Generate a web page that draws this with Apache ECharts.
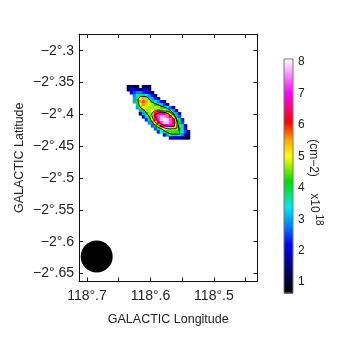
<!DOCTYPE html>
<html><head><meta charset="utf-8">
<style>html,body{margin:0;padding:0;background:#fff;overflow:hidden}#c{width:346px;height:363px}</style>
<script src="https://cdn.jsdelivr.net/npm/echarts@6/dist/echarts.min.js"></script>
</head><body><div id="c"></div>
<script>
const lonTicks = [118.7, 118.65, 118.6, 118.55, 118.5, 118.45];
const lonLabels = {118.7: '118°.7', 118.6: '118°.6', 118.5: '118°.5'};
const latTicks = [-2.3, -2.35, -2.4, -2.45, -2.5, -2.55, -2.6, -2.65];
const latLabels = ['−2°.3', '−2°.35', '−2°.4', '−2°.45', '−2°.5', '−2°.55', '−2°.6', '−2°.65'];
const barTicks = [1, 2, 3, 4, 5, 6, 7, 8];
const lonStart = 118.635, latStart = -2.3562, cellStep = 0.00473;
// [first column, values...] per image row, column density in units of 1e18 cm-2
const rows = [
 [0, 1.2, 1.5, 1.4, 1.1, 0, 1.2, 1.4, 1.1],
 [0, 1.5, 2.0, 2.1, 1.7, 1.4, 2.0, 2.0, 1.4],
 [1, 2.0, 2.5, 2.8, 2.8, 2.4, 2.2, 1.8, 1.3],
 [2, 2.8, 3.5, 3.8, 3.8, 3.4, 2.8, 2.2, 1.5],
 [2, 3.0, 4.0, 5.0, 5.4, 4.7, 3.8, 3.0, 2.4, 1.6],
 [2, 3.0, 4.3, 5.5, 5.8, 5.5, 4.8, 4.1, 3.5, 2.8, 2.1, 1.4],
 [3, 3.8, 5.1, 5.6, 5.3, 4.9, 4.7, 4.3, 3.8, 3.2, 2.5, 1.6],
 [3, 3.0, 4.4, 4.9, 4.8, 4.7, 4.7, 4.8, 4.7, 4.4, 4.0, 3.4, 2.6, 1.6],
 [4, 3.0, 4.1, 4.6, 4.7, 5.0, 5.4, 5.8, 5.6, 5.0, 4.5, 3.9, 3.0, 1.9],
 [4, 1.6, 3.0, 4.1, 4.6, 5.3, 6.1, 6.9, 7.0, 6.5, 5.6, 4.8, 4.1, 3.0, 1.8],
 [5, 1.9, 3.3, 4.4, 5.1, 6.2, 7.2, 7.7, 7.8, 7.3, 6.3, 5.0, 4.0, 2.6],
 [6, 2.4, 3.8, 4.8, 6.0, 7.1, 7.8, 8.1, 7.9, 7.3, 6.2, 4.9, 3.9, 2.3],
 [7, 2.8, 4.2, 5.2, 6.2, 7.2, 7.8, 7.9, 7.3, 6.4, 5.2, 4.1, 2.5],
 [8, 2.6, 4.2, 4.9, 6.1, 6.7, 7.0, 6.8, 6.3, 5.2, 4.4, 3.3, 1.8],
 [9, 2.6, 4.0, 4.7, 5.0, 5.2, 5.2, 5.0, 4.7, 4.2, 3.3, 2.0],
 [10, 2.4, 3.4, 4.0, 4.3, 4.4, 4.4, 4.3, 4.1, 3.5, 2.5, 1.4],
 [12, 2.0, 2.9, 3.5, 3.7, 3.7, 3.5, 2.9, 2.1, 1.3],
 [14, 1.5, 2.0, 2.0, 1.8, 1.6, 1.2, 1.0]
];
const contourOuter = [[118.6195,-2.3774],[118.6157,-2.3722],[118.6073,-2.3722],[118.5983,-2.3801],[118.5852,-2.3863],[118.5695,-2.3931],[118.5589,-2.4088],[118.5537,-2.4312],[118.5642,-2.4312],[118.58,-2.4245],[118.5958,-2.414],[118.6037,-2.4009],[118.6105,-2.3931],[118.6168,-2.3879],[118.6195,-2.3774]];
const contourMiddle = [[118.5983,-2.3998],[118.5931,-2.3947],[118.58,-2.3947],[118.5668,-2.3983],[118.5579,-2.4115],[118.5589,-2.4218],[118.5695,-2.4229],[118.5826,-2.4193],[118.5931,-2.4115],[118.5983,-2.3998]];
const contourInner = [[118.5931,-2.4009],[118.5826,-2.3967],[118.5695,-2.4009],[118.5616,-2.4124],[118.5642,-2.4193],[118.58,-2.4166],[118.5895,-2.4088],[118.5931,-2.4009]];
const beamCentre = [[118.6847, -2.6234]];
const colourStops = [[0.6,[0,0,0]],[1.3,[0,0,90]],[2.2,[0,0,255]],[2.8,[0,130,255]],[3.4,[0,235,235]],[4.2,[0,220,0]],[5.0,[255,255,0]],[5.5,[255,170,0]],[6.1,[255,0,0]],[7.0,[255,0,255]],[8.1,[255,255,255]]];

function colourOf(v){
  if(v<=colourStops[0][0]) return 'rgb(0,0,0)';
  for(let i=1;i<colourStops.length;i++){
    if(v<=colourStops[i][0]){
      const a=colourStops[i-1],b=colourStops[i],t=(v-a[0])/(b[0]-a[0]);
      return 'rgb('+a[1].map((c,k)=>Math.round(c+(b[1][k]-c)*t)).join(',')+')';
    }
  }
  return 'rgb(255,255,255)';
}
const cells=[];
rows.forEach((r,j)=>{ for(let k=1;k<r.length;k++){ if(r[k]>0) cells.push([lonStart-(r[0]+k-1)*cellStep, latStart-j*cellStep, r[k]]); } });
const barLevels=[]; for(let i=0;i<=234;i++) barLevels.push(0.655+i*(8.09-0.655)/234);

const txt='#222', ff='"Liberation Sans", Arial, sans-serif';
const xBase={type:'value',gridIndex:0,min:118.4313,max:118.7126,inverse:true,splitLine:{show:false},
  axisLine:{show:true,onZero:false,lineStyle:{color:'#111',width:1}}};
const yBase={type:'value',gridIndex:0,min:-2.6626,max:-2.2738,splitLine:{show:false},
  axisLine:{show:true,onZero:false,lineStyle:{color:'#111',width:1}}};
const tick={show:true,inside:true,length:4,lineStyle:{color:'#111'}};
const chart=echarts.init(document.getElementById('c'),null,{renderer:'canvas'});
chart.setOption({
  animation:false,backgroundColor:'#fff',
  grid:[{left:79,top:34,width:178.5,height:247.5},{left:284,top:59,width:9,height:234}],
  xAxis:[
    Object.assign({},xBase,{position:'bottom',name:'GALACTIC Longitude',nameLocation:'middle',nameGap:32,
      nameTextStyle:{color:txt,fontFamily:ff,fontSize:12.5},
      axisTick:Object.assign({},tick,{customValues:lonTicks}),
      axisLabel:{color:txt,fontFamily:ff,fontSize:14,margin:8,customValues:[118.7,118.6,118.5],formatter:v=>lonLabels[v]}}),
    Object.assign({},xBase,{position:'top',axisTick:Object.assign({},tick,{customValues:lonTicks}),axisLabel:{show:false}}),
    {type:'value',gridIndex:1,min:0,max:1,show:false}
  ],
  yAxis:[
    Object.assign({},yBase,{position:'left',name:'GALACTIC Latitude',nameLocation:'middle',nameGap:53,nameRotate:90,nameMoveOverlap:false,
      nameTextStyle:{color:txt,fontFamily:ff,fontSize:12.5},
      axisTick:Object.assign({},tick,{customValues:latTicks}),
      axisLabel:{color:txt,fontFamily:ff,fontSize:14,margin:5,customValues:latTicks,
        formatter:v=>latLabels[latTicks.findIndex(t=>Math.abs(t-v)<1e-6)]}}),
    Object.assign({},yBase,{position:'right',axisTick:Object.assign({},tick,{customValues:latTicks}),axisLabel:{show:false}}),
    {type:'value',gridIndex:1,min:0.655,max:8.09,position:'right',splitLine:{show:false},
      axisLine:{show:false},
      axisTick:{show:false},
      axisLabel:{color:txt,fontFamily:ff,fontSize:12,margin:5,customValues:barTicks}}
  ],
  graphic:[
    {type:'rect',shape:{x:284,y:59,width:9,height:234},style:{fill:'none',stroke:'#777',lineWidth:1},z:10},
    {type:'text',x:313,y:158,rotation:-Math.PI/2,style:{text:'(cm−2)',fill:txt,font:'12px '+ff,textAlign:'center',textVerticalAlign:'middle'}},
    {type:'text',x:314,y:203,rotation:-Math.PI/2,style:{text:'x10',fill:txt,font:'12px '+ff,textAlign:'center',textVerticalAlign:'middle'}},
    {type:'text',x:319,y:220,rotation:-Math.PI/2,style:{text:'18',fill:txt,font:'10px '+ff,textAlign:'center',textVerticalAlign:'middle'}}
  ],
  series:[
    {type:'custom',xAxisIndex:0,yAxisIndex:0,data:cells,silent:true,z:2,
      renderItem:(p,api)=>{
        const c=api.coord([api.value(0),api.value(1)]),s=api.size([cellStep,cellStep]);
        return {type:'rect',shape:{x:c[0]-s[0]/2,y:c[1]-s[1]/2,width:s[0]+0.5,height:s[1]+0.5},style:{fill:colourOf(api.value(2))}};
      }},
    {type:'line',xAxisIndex:0,yAxisIndex:0,data:contourOuter,smooth:0.4,showSymbol:false,lineStyle:{color:'#000',width:1},z:3,silent:true},
    {type:'line',xAxisIndex:0,yAxisIndex:0,data:contourMiddle,smooth:0.4,showSymbol:false,lineStyle:{color:'#000',width:1},z:3,silent:true},
    {type:'line',xAxisIndex:0,yAxisIndex:0,data:contourInner,smooth:0.4,showSymbol:false,lineStyle:{color:'#000',width:1},z:3,silent:true},
    {type:'scatter',xAxisIndex:0,yAxisIndex:0,data:beamCentre,symbol:'circle',symbolSize:32,itemStyle:{color:'#000',opacity:1},z:4,silent:true},
    {type:'custom',xAxisIndex:2,yAxisIndex:2,data:barLevels.map(v=>[0,v]),silent:true,z:2,
      renderItem:(p,api)=>{
        const c=api.coord([0,api.value(1)]),w=api.size([1,0])[0];
        return {type:'rect',shape:{x:c[0],y:c[1]-1,width:w,height:1.6},style:{fill:colourOf(api.value(1))}};
      }}
  ]
});
</script></body></html>
